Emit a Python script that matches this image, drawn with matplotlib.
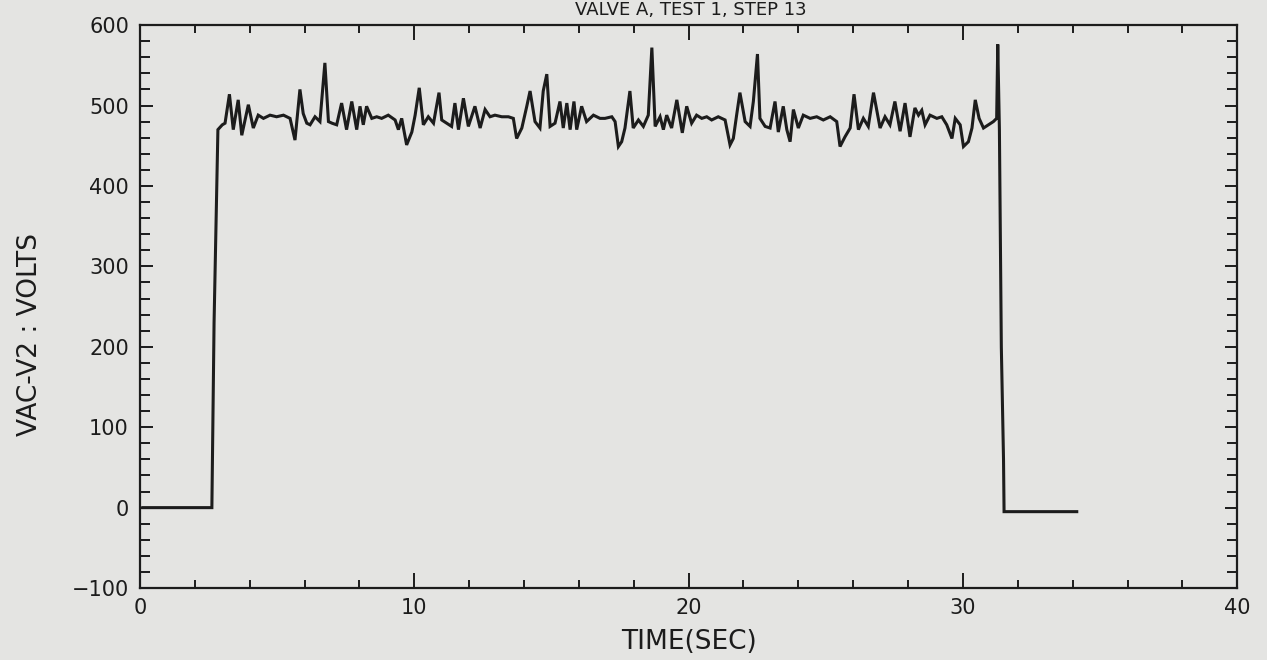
import matplotlib
matplotlib.use("Agg")
import matplotlib.pyplot as plt
from matplotlib.ticker import MultipleLocator

# ---------------------------------------------------------------------------
# Data (time in s, voltage in V)
# ---------------------------------------------------------------------------
time_s = [
    0.1, 2.62, 2.70, 2.84, 3.00, 3.10,
    3.26, 3.40, 3.58, 3.71, 3.95, 4.13, 4.31, 4.50, 4.74, 4.98, 5.23, 5.47,
    5.65, 5.83, 5.95, 6.08, 6.20, 6.38, 6.56, 6.74, 6.87, 7.00, 7.17,
    7.35, 7.53, 7.72, 7.90, 8.02, 8.14, 8.26, 8.45, 8.63, 8.81, 9.05, 9.30,
    9.42, 9.54, 9.72, 9.91, 10.03, 10.18, 10.33, 10.51, 10.70, 10.90, 11.00,
    11.18, 11.36, 11.48, 11.61, 11.79, 11.97,
    12.21, 12.40, 12.58, 12.76, 12.94, 13.19, 13.43, 13.61, 13.73, 13.92,
    14.10, 14.22, 14.40, 14.58, 14.70, 14.83, 14.95, 15.13, 15.31, 15.43,
    15.56, 15.68, 15.82, 15.92, 16.10, 16.28, 16.53, 16.77, 16.95,
    17.20, 17.32, 17.44, 17.56, 17.68, 17.86, 17.98, 18.17, 18.35, 18.53,
    18.66, 18.78, 18.96, 19.08, 19.20, 19.38, 19.57, 19.69, 19.77, 19.93,
    20.11, 20.29, 20.48, 20.66, 20.84, 21.08, 21.33, 21.51, 21.63, 21.75,
    21.87,
    22.06, 22.24, 22.36, 22.51, 22.60, 22.79, 22.97, 23.15, 23.27, 23.45,
    23.58, 23.70, 23.82, 24.00, 24.18, 24.43, 24.67, 24.91, 25.16, 25.40,
    25.52, 25.70, 25.89, 26.03, 26.19, 26.37, 26.55, 26.74,
    26.98, 27.16, 27.34, 27.52, 27.71, 27.89, 28.07, 28.25, 28.38, 28.50,
    28.62, 28.80, 29.05, 29.23, 29.41, 29.60, 29.72, 29.90, 30.02, 30.20,
    30.33, 30.45, 30.59, 30.75, 30.93, 31.11, 31.23, 31.27, 31.33, 31.40,
    31.48, 31.50, 34.15,
]
volts = [
    0, 0, 230, 470, 476, 478,
    514, 470, 507, 463, 501, 472, 488, 484, 488, 486, 488, 484,
    457, 520, 490, 478, 476, 486, 480, 553, 480, 478, 476,
    503, 470, 505, 470, 499, 476, 499, 484, 486, 484, 488, 482,
    470, 484, 451, 467, 488, 522, 476, 486, 478, 516, 482,
    478, 474, 503, 470, 509, 474,
    499, 472, 495, 486, 488, 486, 486, 484, 459, 472,
    499, 518, 480, 472, 518, 539, 474, 478, 505, 472,
    503, 470, 505, 470, 499, 480, 488, 484, 484,
    486, 480, 449, 455, 472, 518, 472, 482, 474, 488,
    572, 474, 486, 470, 488, 472, 507, 482, 466, 499,
    478, 488, 484, 486, 482, 486, 482, 451, 459, 488,
    516,
    480, 474, 505, 564, 484, 474, 472, 505, 467, 499,
    470, 455, 495, 472, 488, 484, 486, 482, 486, 480,
    449, 461, 472, 514, 470, 484, 474, 516,
    472, 486, 476, 505, 468, 503, 461, 497, 488, 494,
    476, 488, 484, 486, 476, 459, 484, 476, 449, 455,
    472, 507, 484, 472, 476, 480, 484, 576, 470, 200,
    60, -5, -5,
]

title_text = "VALVE A, TEST 1, STEP 13"
xlabel_text = "TIME(SEC)"
ylabel_text = "VAC-V2 : VOLTS"

PAPER = "#e4e4e2"
INK = "#1c1c1c"

fig = plt.figure(figsize=(12.67, 6.6), dpi=100, facecolor=PAPER)
ax = fig.add_axes([0.1105, 0.1090, 0.8660, 0.8530], facecolor=PAPER)

ax.plot(time_s, volts, color=INK, linewidth=2.2, solid_joinstyle="miter")

ax.set_xlim(0, 40)
ax.set_ylim(-100, 600)
ax.xaxis.set_major_locator(MultipleLocator(10))
ax.xaxis.set_minor_locator(MultipleLocator(2))
ax.yaxis.set_major_locator(MultipleLocator(100))
ax.yaxis.set_minor_locator(MultipleLocator(20))

ax.tick_params(which="both", direction="in", top=True, right=True,
               color=INK, width=1.4)
ax.tick_params(axis="x", which="major", length=11, pad=7,
               labelsize=15, labelcolor=INK)
ax.tick_params(axis="x", which="minor", length=6)
ax.tick_params(axis="y", which="major", length=9, pad=8,
               labelsize=15, labelcolor=INK)
ax.tick_params(axis="y", which="minor", length=7)
for s in ax.spines.values():
    s.set_color(INK)
    s.set_linewidth(1.6)

ax.set_xlabel(xlabel_text, fontsize=19, color=INK)
ax.xaxis.set_label_coords(0.5, -0.072)
ax.set_ylabel(ylabel_text, fontsize=19, color=INK)
ax.yaxis.set_label_coords(-0.088, 0.45)

# title squeezed into the strip above the frame
fig.text(0.545, 0.985, title_text, ha="center", va="center",
         fontsize=13, color=INK)

fig.savefig("out.png", dpi=100, facecolor=PAPER)
